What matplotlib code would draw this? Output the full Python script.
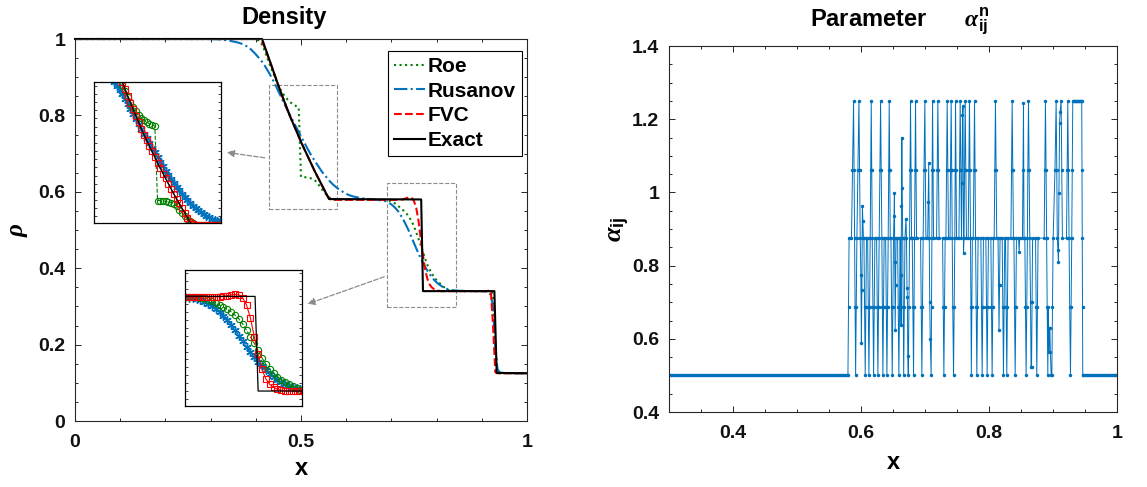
import numpy as np
import matplotlib.pyplot as plt
from matplotlib.patches import Rectangle
from matplotlib.ticker import MultipleLocator

plt.rcParams['font.family'] = ['Liberation Sans', 'DejaVu Sans']
plt.rcParams['font.weight'] = 'bold'
plt.rcParams['mathtext.fontset'] = 'custom'
plt.rcParams['mathtext.rm'] = 'Liberation Sans'
plt.rcParams['mathtext.it'] = 'Liberation Serif:italic'
plt.rcParams['mathtext.bf'] = 'Liberation Sans:bold'

# ---------------- density data ----------------
x_num = np.concatenate([
    [0.0, 0.1, 0.2, 0.25, 0.3, 0.32, 0.34, 0.36, 0.37, 0.38],
    np.round(np.arange(0.385, 0.6151, 0.005), 3),
    [0.63, 0.65, 0.665],
    np.round(np.arange(0.675, 0.8301, 0.005), 3),
    [0.85, 0.88, 0.90, 0.91, 0.915, 0.92, 0.925, 0.93, 0.935, 0.94, 0.95, 0.97, 1.0]])

rho_rusanov = [
    1.0, 1.0, 1.0, 1.0, 1.0, 0.999, 0.996, 0.991, 0.987, 0.981,
    0.977, 0.972, 0.966, 0.960, 0.953, 0.946, 0.939, 0.930, 0.920, 0.910,
    0.899, 0.888, 0.876, 0.863, 0.851, 0.838, 0.826, 0.814, 0.802, 0.791,
    0.779, 0.768, 0.757, 0.745, 0.734, 0.723, 0.712, 0.701, 0.691, 0.682,
    0.673, 0.664, 0.655, 0.647, 0.640, 0.633, 0.626, 0.620, 0.615, 0.610,
    0.606, 0.602, 0.598, 0.595, 0.592, 0.590, 0.588,
    0.584, 0.581, 0.579,
    0.578, 0.577, 0.576, 0.574, 0.571, 0.567, 0.562, 0.556, 0.549, 0.540,
    0.530, 0.519, 0.507, 0.494, 0.480, 0.466, 0.452, 0.439, 0.426, 0.414,
    0.403, 0.393, 0.384, 0.376, 0.369, 0.363, 0.358, 0.354, 0.350, 0.347,
    0.345, 0.343,
    0.341, 0.340, 0.340, 0.339, 0.337, 0.330, 0.300, 0.190, 0.135, 0.127,
    0.125, 0.125, 0.125]

rho_roe = [
    1.0, 1.0, 1.0, 1.0, 1.0, 1.0, 1.0, 1.0, 1.0, 1.0,
    1.0, 1.0, 1.0, 0.999, 0.997, 0.992, 0.983, 0.968, 0.952, 0.936,
    0.921, 0.906, 0.892, 0.879, 0.867, 0.857, 0.849, 0.842, 0.836, 0.831,
    0.827, 0.824, 0.821, 0.639, 0.639, 0.638, 0.637, 0.636, 0.634, 0.631,
    0.625, 0.617, 0.609, 0.601, 0.594, 0.588, 0.583, 0.580, 0.579, 0.579,
    0.579, 0.579, 0.579, 0.579, 0.579, 0.579, 0.579,
    0.579, 0.579, 0.579,
    0.579, 0.579, 0.578, 0.578, 0.577, 0.575, 0.572, 0.568, 0.563, 0.558,
    0.553, 0.547, 0.541, 0.532, 0.523, 0.510, 0.494, 0.477, 0.461, 0.443,
    0.424, 0.408, 0.396, 0.385, 0.376, 0.369, 0.363, 0.357, 0.352, 0.347,
    0.343, 0.341,
    0.340, 0.340, 0.340, 0.340, 0.340, 0.339, 0.332, 0.200, 0.128, 0.125,
    0.125, 0.125, 0.125]

rho_fvc = [
    1.0, 1.0, 1.0, 1.0, 1.0, 1.0, 1.0, 1.0, 1.0, 1.0,
    1.0, 1.0, 1.0, 1.0, 1.0, 0.998, 0.990, 0.977, 0.961, 0.945,
    0.929, 0.912, 0.895, 0.878, 0.862, 0.846, 0.831, 0.815, 0.800, 0.786,
    0.773, 0.759, 0.745, 0.731, 0.718, 0.705, 0.693, 0.680, 0.668, 0.655,
    0.643, 0.632, 0.620, 0.609, 0.597, 0.587, 0.581, 0.579, 0.579, 0.579,
    0.579, 0.579, 0.579, 0.579, 0.579, 0.579, 0.579,
    0.579, 0.579, 0.579,
    0.579, 0.579, 0.579, 0.579, 0.579, 0.579, 0.579, 0.579, 0.579, 0.579,
    0.580, 0.582, 0.584, 0.585, 0.584, 0.576, 0.558, 0.525, 0.478, 0.433,
    0.395, 0.371, 0.357, 0.349, 0.345, 0.342, 0.341, 0.340, 0.340, 0.340,
    0.340, 0.340,
    0.340, 0.340, 0.340, 0.340, 0.341, 0.342, 0.250, 0.128, 0.125, 0.125,
    0.125, 0.125, 0.125]

x_exact = [0.0, 0.414, 0.43, 0.4535, 0.475, 0.5015, 0.53, 0.562, 0.766, 0.770, 0.928, 0.933, 1.0]
rho_exact = [1.0, 1.0, 0.946, 0.8665, 0.80, 0.727, 0.655, 0.581, 0.580, 0.340, 0.340, 0.126, 0.125]

# zoom windows: dashed boxes on the main plot and limits of the insets
box1 = (0.43, 0.555, 0.15, 0.325)
box2 = (0.69, 0.298, 0.153, 0.325)
inset1_lim = ((0.383, 0.617), (0.584, 0.929))
inset2_lim = ((0.675, 0.827), (0.302, 0.647))

# ---------------- alpha parameter data ----------------
alpha_left_x = np.arange(0.3, 0.5795, 0.0025)
alpha_left_v = np.full(alpha_left_x.size, 0.5)
alpha_right_x = np.arange(0.9475, 1.0001, 0.0025)
alpha_right_v = np.full(alpha_right_x.size, 0.5)

alpha_nodes = [
    (0.5795, 0.5), (0.5804, 0.6875), (0.5813, 0.875), (0.5850, 0.875),
    (0.5866, 1.0625), (0.5883, 1.25), (0.5891, 1.0625), (0.5899, 0.875), (0.5907, 0.6875), (0.5915, 0.5), (0.5925, 0.6875), (0.5935, 0.875),
    (0.5951, 1.0625), (0.5967, 1.25), (0.5977, 1.0625), (0.5987, 0.875),
    (0.5997, 0.775), (0.6005, 0.588), (0.6013, 0.734), (0.6021, 0.964), (0.6029, 0.921), (0.6037, 0.875),
    (0.6045, 0.875), (0.6055, 0.6875), (0.6065, 0.5), (0.6075, 0.6875), (0.6085, 0.875),
    (0.6103, 0.875), (0.6113, 0.6875), (0.6123, 0.5), (0.6133, 0.6875), (0.6143, 0.875),
    (0.6151, 1.0625), (0.6159, 1.25), (0.6167, 1.0625), (0.6175, 0.875),
    (0.6186, 0.6875), (0.6196, 0.5), (0.6206, 0.6875), (0.6216, 0.875),
    (0.6243, 0.875), (0.6253, 0.6875), (0.6263, 0.5), (0.6273, 0.6875), (0.6283, 0.875),
    (0.6295, 1.0625), (0.6305, 1.25), (0.6315, 1.0625), (0.6325, 0.875),
    (0.6333, 0.6875), (0.6341, 0.5), (0.6351, 0.6875), (0.6361, 0.875),
    (0.6384, 0.875), (0.6394, 0.6875), (0.6404, 0.5), (0.6414, 0.6875), (0.6424, 0.875),
    (0.6432, 1.0625), (0.6440, 1.25), (0.6448, 1.0625), (0.6456, 0.875),
    (0.6467, 0.875), (0.6477, 0.6875), (0.6487, 0.5), (0.6497, 0.6875), (0.6507, 0.875),
    (0.6515, 0.936), (0.6521, 0.998), (0.6527, 0.81), (0.6533, 0.625), (0.6539, 0.747), (0.6547, 0.875),
    (0.6571, 0.875), (0.6581, 0.6875), (0.6591, 0.5), (0.6601, 0.6875), (0.6611, 0.875),
    (0.6619, 0.773), (0.6625, 0.638), (0.6631, 0.962), (0.6637, 1.15), (0.6643, 1.012), (0.6651, 0.875),
    (0.6658, 0.6875), (0.6666, 0.5), (0.6676, 0.6875), (0.6686, 0.875),
    (0.6702, 0.928), (0.6710, 0.875), (0.6718, 0.74), (0.6724, 0.715), (0.6730, 0.554), (0.6738, 0.5), (0.6748, 0.6875), (0.6758, 0.875),
    (0.6765, 1.0625), (0.6773, 1.25), (0.6781, 1.0625), (0.6789, 0.875),
    (0.6800, 0.875), (0.6810, 0.6875), (0.6820, 0.5), (0.6828, 0.6875), (0.6836, 0.875),
    (0.6843, 1.0625), (0.6851, 1.25), (0.6859, 1.0625), (0.6867, 0.875),
    (0.6930, 0.875), (0.6940, 0.6875), (0.6950, 0.5), (0.6960, 0.6875), (0.6970, 0.875),
    (0.6983, 1.0625), (0.6997, 1.25), (0.7005, 1.0625), (0.7013, 0.875),
    (0.7041, 0.875), (0.7049, 0.975), (0.7057, 1.08), (0.7065, 0.875), (0.7073, 0.70), (0.7081, 0.60),
    (0.7095, 0.5), (0.7101, 0.6875), (0.7107, 0.875), (0.7111, 1.0625), (0.7117, 1.25), (0.7125, 1.0625), (0.7133, 0.875),
    (0.7180, 0.875), (0.7190, 1.0625), (0.7200, 1.25), (0.7210, 1.0625), (0.7220, 0.875),
    (0.7274, 0.875), (0.7284, 0.6875), (0.7294, 0.5), (0.7304, 0.6875), (0.7314, 0.875),
    (0.7326, 0.875), (0.7336, 1.0625), (0.7346, 1.25), (0.7356, 1.0625), (0.7366, 0.875),
    (0.7390, 0.875), (0.7398, 1.0625), (0.7408, 1.25), (0.7416, 1.0625), (0.7424, 0.875),
    (0.7433, 0.6875), (0.7445, 0.5), (0.7455, 0.6875), (0.7465, 0.875), (0.7470, 1.0625), (0.7476, 1.25), (0.7484, 1.0625), (0.7492, 0.875),
    (0.7529, 0.875), (0.7539, 1.0625), (0.7549, 1.25), (0.7559, 1.0625), (0.7569, 0.875),
    (0.7577, 1.025), (0.7585, 1.212), (0.7593, 1.235), (0.7601, 0.834), (0.7609, 0.875),
    (0.7617, 1.0625), (0.7627, 1.25), (0.7637, 1.0625), (0.7647, 0.875),
    (0.7674, 0.875), (0.7684, 1.0625), (0.7694, 1.25), (0.7702, 1.0625), (0.7710, 0.875),
    (0.7716, 0.6875), (0.7723, 0.5), (0.7731, 0.6875), (0.7739, 0.875),
    (0.7753, 0.875), (0.7763, 1.0625), (0.7773, 1.25), (0.7781, 1.0625), (0.7789, 0.875),
    (0.7799, 0.6875), (0.7809, 0.5), (0.7819, 0.6875), (0.7829, 0.875),
    (0.7872, 0.875), (0.7882, 0.6875), (0.7892, 0.5), (0.7902, 0.6875), (0.7912, 0.875),
    (0.7950, 0.875), (0.7960, 0.6875), (0.7970, 0.5), (0.7980, 0.6875), (0.7990, 0.875),
    (0.8028, 0.875), (0.8038, 0.6875), (0.8048, 0.5), (0.8058, 0.6875), (0.8068, 0.875),
    (0.8080, 0.875), (0.8090, 1.0625), (0.8100, 1.25), (0.8110, 1.0625), (0.8120, 0.875),
    (0.8140, 0.875), (0.8148, 0.747), (0.8156, 0.625), (0.8164, 0.747), (0.8172, 0.875),
    (0.8205, 0.875), (0.8215, 0.6875), (0.8225, 0.5), (0.8235, 0.6875), (0.8245, 0.875),
    (0.8257, 0.875), (0.8267, 0.6875), (0.8277, 0.5), (0.8287, 0.6875), (0.8297, 0.875),
    (0.8341, 0.875), (0.8351, 1.0625), (0.8361, 1.25), (0.8371, 1.0625), (0.8381, 0.875),
    (0.8388, 0.875), (0.8398, 0.6875), (0.8408, 0.5), (0.8418, 0.6875), (0.8428, 0.875),
    (0.8460, 0.875), (0.8470, 0.838), (0.8478, 0.875),
    (0.8522, 0.875), (0.8530, 1.062), (0.8538, 1.243), (0.8546, 0.875),
    (0.8559, 0.875), (0.8569, 0.6875), (0.8579, 0.5), (0.8589, 0.6875), (0.8599, 0.875),
    (0.8606, 1.0625), (0.8616, 1.25), (0.8626, 1.0625), (0.8636, 0.875),
    (0.8648, 0.70), (0.8656, 0.524), (0.8664, 0.524), (0.8672, 0.70), (0.8680, 0.875),
    (0.8726, 0.875), (0.8736, 0.6875), (0.8746, 0.5), (0.8756, 0.6875), (0.8766, 0.875),
    (0.8861, 0.875), (0.8871, 1.0625), (0.8881, 1.25), (0.8891, 1.0625), (0.8899, 0.875),
    (0.8908, 0.6875), (0.8918, 0.5), (0.8926, 0.6875), (0.8934, 0.565), (0.8942, 0.629), (0.8950, 0.629), (0.8958, 0.565),
    (0.8970, 0.5), (0.8981, 0.5), (0.8991, 0.6875), (0.9001, 0.875),
    (0.9030, 1.0625), (0.9048, 1.25), (0.9058, 1.0625), (0.9066, 0.875), (0.9076, 0.843), (0.9084, 0.811),
    (0.9092, 0.998), (0.9102, 1.189), (0.9110, 1.22), (0.9126, 1.25), (0.9136, 1.0625), (0.9146, 0.875),
    (0.9210, 0.875), (0.9220, 1.0625), (0.9230, 1.25), (0.9240, 1.0625), (0.9250, 0.875),
    (0.9260, 0.6875), (0.9272, 0.5), (0.9282, 0.6875), (0.9292, 0.875),
    (0.9300, 1.0625), (0.9308, 1.25), (0.9325, 1.25), (0.9340, 1.25), (0.9355, 1.25), (0.9370, 1.25),
    (0.9385, 1.25), (0.9400, 1.25), (0.9415, 1.25), (0.9430, 1.25), (0.9448, 1.25),
    (0.9452, 1.0625), (0.9456, 0.875), (0.9460, 0.6875), (0.9464, 0.5),
]

# ---------------- styles ----------------
c_roe = '#008000'
c_rus = '#0072BD'
c_fvc = '#FF0000'
c_axis = '#262626'
tick_fs = 14
label_fs = 17


def style_axes(ax):
    ax.tick_params(which='both', direction='in', top=True, right=True,
                   colors=c_axis, labelsize=tick_fs, width=0.7)
    ax.tick_params(which='major', length=4)
    ax.tick_params(which='minor', length=2)
    ax.tick_params(axis='x', which='major', pad=9)
    ax.tick_params(axis='y', which='major', pad=7)
    for s in ax.spines.values():
        s.set_color(c_axis)
        s.set_linewidth(0.8)
    for lab in ax.get_xticklabels() + ax.get_yticklabels():
        lab.set_fontweight('bold')
        lab.set_color('#111111')


fig = plt.figure(figsize=(11.47, 4.87), dpi=100)

# ---------------- left: density ----------------
ax1 = fig.add_axes([0.0654, 0.1355, 0.394, 0.7844])
ax1.plot(x_num, rho_roe, ':', color=c_roe, lw=1.5, label='Roe', clip_on=False)
ax1.plot(x_num, rho_rusanov, '-.', color=c_rus, lw=1.5, label='Rusanov', clip_on=False)
ax1.plot(x_num, rho_fvc, '--', color=c_fvc, lw=1.5, label='FVC', clip_on=False)
ax1.plot(x_exact, rho_exact, '-', color='k', lw=1.5, label='Exact', clip_on=False)
ax1.set_xlim(0, 1)
ax1.set_ylim(0, 1)
ax1.set_xticks([0, 0.5, 1])
ax1.set_xticklabels(['0', '0.5', '1'])
ax1.set_yticks([0, 0.2, 0.4, 0.6, 0.8, 1])
ax1.set_yticklabels(['0', '0.2', '0.4', '0.6', '0.8', '1'])
ax1.xaxis.set_minor_locator(MultipleLocator(0.1))
ax1.yaxis.set_minor_locator(MultipleLocator(0.05))
style_axes(ax1)
t1 = ax1.set_title('Density', fontsize=label_fs, fontweight='bold', pad=11)
t1.set_x(0.462)
ax1.set_xlabel('x', fontsize=label_fs, fontweight='bold', labelpad=5)
ax1.set_ylabel(r'$\rho$', fontsize=18, labelpad=6)

leg = ax1.legend(loc='upper right', bbox_to_anchor=(0.988, 0.968), prop={'weight': 'bold', 'size': 15},
                 frameon=True, fancybox=False, edgecolor='k', framealpha=1,
                 handlelength=1.5, handletextpad=0.12, labelspacing=0.27, borderpad=0.28,
                 borderaxespad=0.0)
leg.get_frame().set_linewidth(0.8)

for (bx, by, bw, bh) in (box1, box2):
    ax1.add_patch(Rectangle((bx, by), bw, bh, fill=False, ls='--', lw=0.8, ec='#8c8c8c'))

arrow_kw = dict(arrowstyle='-|>', color='#8c8c8c', ls='--', lw=0.9, mutation_scale=11)
ax1.annotate('', xy=(0.33, 0.704), xytext=(box1[0] - 0.004, 0.688), arrowprops=arrow_kw)
ax1.annotate('', xy=(0.509, 0.304), xytext=(box2[0], 0.38), arrowprops=arrow_kw)


def draw_inset(rect, lims):
    ins = fig.add_axes(rect)
    ins.plot(x_num, rho_rusanov, '-', color=c_rus, lw=0.8, marker=(6, 2, 0), ms=6, mew=1.0)
    ins.plot(x_num, rho_roe, '--', color=c_roe, lw=0.8, marker='o', ms=4.5, mfc='none', mew=0.8)
    ins.plot(x_num, rho_fvc, '-', color=c_fvc, lw=0.8, marker='s', ms=3.8, mfc='none', mew=0.8)
    ins.plot(x_exact, rho_exact, '-', color='k', lw=0.9)
    ins.set_xlim(*lims[0])
    ins.set_ylim(*lims[1])
    ins.set_xticks([])
    ins.yaxis.set_major_locator(MultipleLocator(0.02))
    ins.tick_params(axis='y', direction='in', left=True, right=True, labelleft=False,
                    length=2, width=0.6, colors=c_axis)
    for s in ins.spines.values():
        s.set_color('k')
        s.set_linewidth(0.9)
    return ins


draw_inset([0.0820, 0.5421, 0.1107, 0.2895], inset1_lim)
draw_inset([0.1613, 0.1663, 0.1020, 0.2793], inset2_lim)

# ---------------- right: alpha ----------------
ax2 = fig.add_axes([0.5833, 0.154, 0.3906, 0.7515])
nx, nv = zip(*alpha_nodes)
a_x = np.concatenate([alpha_left_x, nx, alpha_right_x])
a_v = np.concatenate([alpha_left_v, nv, alpha_right_v])
ax2.plot(a_x, a_v, '.-', color=c_rus, lw=0.7, ms=3)
ax2.set_xlim(0.3, 1)
ax2.set_ylim(0.4, 1.4)
ax2.set_xticks([0.4, 0.6, 0.8, 1])
ax2.set_xticklabels(['0.4', '0.6', '0.8', '1'])
ax2.set_yticks([0.4, 0.6, 0.8, 1, 1.2, 1.4])
ax2.set_yticklabels(['0.4', '0.6', '0.8', '1', '1.2', '1.4'])
ax2.xaxis.set_minor_locator(MultipleLocator(0.05))
ax2.yaxis.set_minor_locator(MultipleLocator(0.05))
style_axes(ax2)
t2 = ax2.set_title(r'Parameter      $\alpha_{\mathbf{ij}}^{\mathbf{n}}$', fontsize=label_fs,
                   fontweight='bold', pad=14)
t2.set_x(0.516)
ax2.set_xlabel('x', fontsize=label_fs, fontweight='bold', labelpad=7)
ax2.set_ylabel(r'$\alpha_{\mathbf{ij}}$', fontsize=19, labelpad=0)

fig.savefig('out.png', dpi=100)
plt.close(fig)
